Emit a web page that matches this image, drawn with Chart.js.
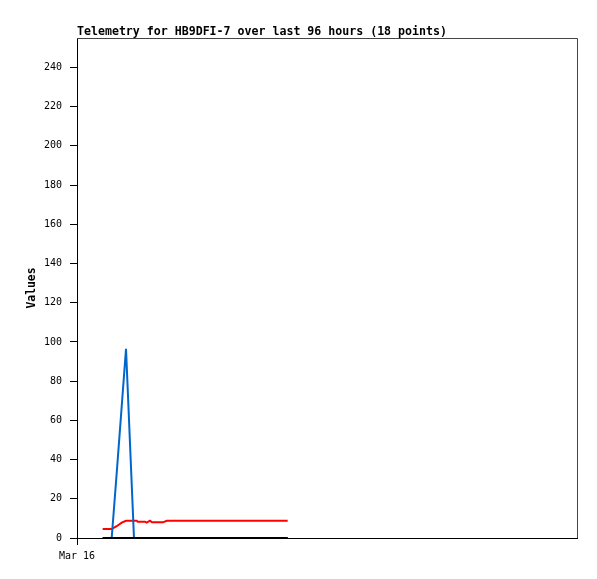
<!DOCTYPE html>
<html>
<head>
<meta charset="utf-8">
<script src="https://cdn.jsdelivr.net/npm/chart.js@4/dist/chart.umd.min.js"></script>
<style>
html,body{margin:0;padding:0;background:#fff;}
#wrap{width:597px;height:579px;}
</style>
</head>
<body>
<div id="wrap"><canvas id="c" width="597" height="579"></canvas></div>
<script>
// Hours since start of window (Mar 16)
const hours = [4.93, 6.66, 7.62, 8.58, 9.41, 10.94, 11.46, 11.65, 13.06, 13.38, 14.02, 14.40, 16.51, 17.22, 23.62, 31.30, 37.06, 40.45];
const blueValues = [0, 0, 33, 67, 96.5, 0, 0, 0, 0, 0, 0, 0, 0, 0, 0, 0, 0, 0];
const redValues = [4.6, 4.6, 6.0, 7.8, 8.8, 8.8, 8.8, 8.3, 8.3, 7.8, 8.8, 8.0, 8.0, 8.8, 8.8, 8.8, 8.8, 8.8];
const blackValues = [0, 0, 0, 0, 0, 0, 0, 0, 0, 0, 0, 0, 0, 0, 0, 0, 0, 0];
const xTickLabels = ["Mar 16"];
const titleText = "Telemetry for HB9DFI-7 over last 96 hours (18 points)";
const yTitle = "Values";

const pts = vals => hours.map((h, i) => ({x: h, y: vals[i]}));
const MONO = "'DejaVu Sans Mono', 'Liberation Mono', monospace";

const frame = {
  id: 'frame',
  afterDraw(chart) {
    const {ctx, chartArea: a} = chart;
    ctx.save();
    ctx.strokeStyle = '#444';
    ctx.lineWidth = 1;
    ctx.beginPath();
    ctx.moveTo(a.left, a.top + 0.5);
    ctx.lineTo(a.right + 0.5, a.top + 0.5);
    ctx.lineTo(a.right + 0.5, a.bottom);
    ctx.stroke();
    ctx.restore();
  }
};

new Chart(document.getElementById('c'), {
  type: 'line',
  data: {
    datasets: [
      {data: pts(blackValues), borderColor: '#000000', borderWidth: 2, pointRadius: 0, tension: 0},
      {data: pts(blueValues), borderColor: '#0066cc', borderWidth: 2, pointRadius: 0, tension: 0},
      {data: pts(redValues), borderColor: '#ff0000', borderWidth: 2, pointRadius: 0, tension: 0}
    ]
  },
  options: {
    responsive: false,
    animation: false,
    devicePixelRatio: 1,
    layout: {padding: {left: 0, right: 20, top: 0, bottom: 0}},
    plugins: {
      legend: {display: false},
      tooltip: {enabled: false},
      title: {
        display: true,
        text: titleText,
        align: 'start',
        fullSize: false,
        color: '#000',
        font: {family: MONO, size: 11.6, weight: 'bold', lineHeight: 1.035},
        padding: {top: 26, bottom: 0}
      }
    },
    scales: {
      x: {
        type: 'linear',
        min: 0,
        max: 96,
        afterFit: s => { s.height = 41; },
        afterBuildTicks: s => { s.ticks = [{value: 0}]; },
        grid: {display: true, drawOnChartArea: false, drawTicks: true, tickLength: 7, color: '#000'},
        border: {display: true, color: '#000', width: 1},
        ticks: {
          color: '#000',
          padding: 5,
          maxRotation: 0,
          font: {family: MONO, size: 10},
          callback: (v, i) => xTickLabels[i] || ''
        }
      },
      y: {
        min: 0,
        max: 255,
        afterFit: s => { s.width = 77; },
        afterBuildTicks: s => { s.ticks = s.ticks.filter(t => t.value % 20 === 0); },
        grid: {display: true, drawOnChartArea: false, drawTicks: true, tickLength: 7, color: '#000'},
        border: {display: true, color: '#000', width: 1},
        ticks: {
          stepSize: 20,
          color: '#000',
          padding: 8,
          font: {family: MONO, size: 10}
        },
        title: {
          display: true,
          text: yTitle,
          color: '#000',
          font: {family: MONO, size: 11.4, weight: 'bold', lineHeight: 1.2},
          padding: {top: 25, bottom: 0}
        }
      }
    }
  },
  plugins: [frame]
});
</script>
</body>
</html>
